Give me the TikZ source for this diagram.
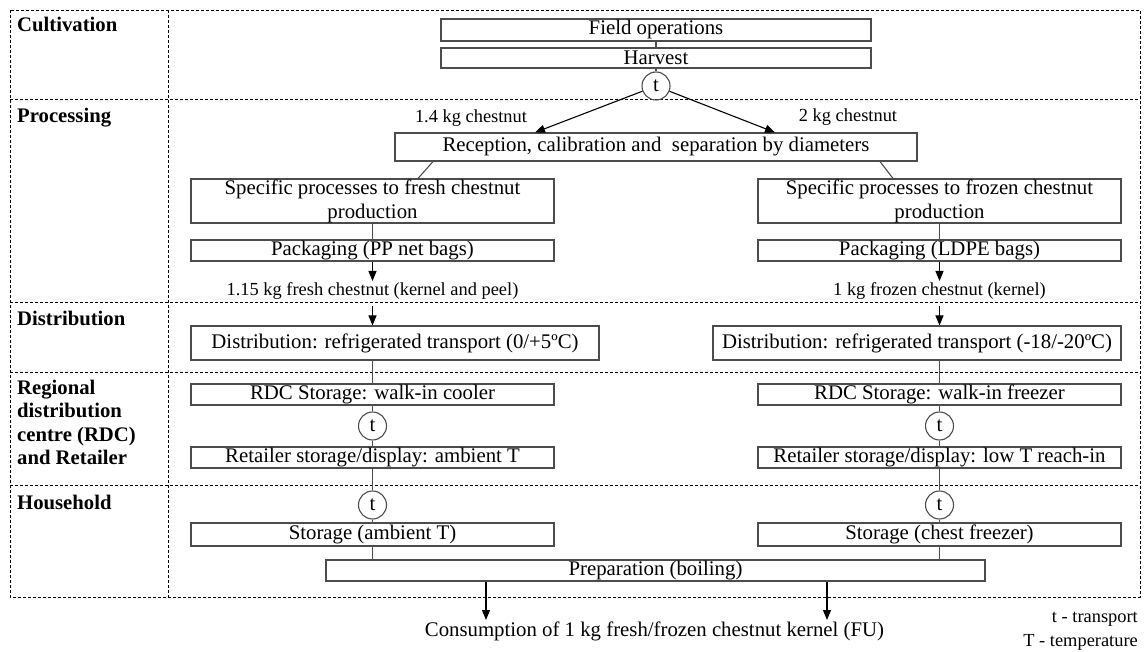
\documentclass[tikz,border=0pt]{standalone}
\usepackage{fontspec}
\setmainfont{Liberation Serif}
\usetikzlibrary{arrows.meta}
\definecolor{bx}{gray}{0.3}
\newcommand\fsbox{\fontsize{20.8}{23.8}\selectfont}
\newcommand\fsann{\fontsize{18.4}{21}\selectfont}
\newcommand\fslab{\fontsize{20.7}{23.3}\selectfont\bfseries}
\begin{document}
\begin{tikzpicture}[x=1pt,y=-1pt,
  box/.style={draw=bx, line width=1.1pt, inner sep=0pt, minimum width=363pt, font=\fsbox, align=center},
  tc/.style={circle, draw=bx, line width=1.1pt, minimum size=28pt, inner sep=0pt, font=\fsbox},
  ln/.style={draw=bx, line width=1.1pt},
  arr/.style={draw=black, line width=1.1pt, -{Triangle[length=10pt,width=8pt]}},
  frame/.style={draw=black, line width=0.9pt, dash pattern=on 3pt off 2pt},
  ann/.style={font=\fsann, inner sep=1pt},
  lab/.style={font=\fslab, anchor=base west, inner sep=0pt}]
\useasboundingbox (0,0) rectangle (1144,652);
% frame
\draw[frame] (10,10) rectangle (1140,597);
\draw[frame] (168,10) -- (168,597);
\foreach \yy in {99,302,372,485} \draw[frame] (10,\yy) -- (1140,\yy);
% stage labels
\node[lab] (lcult) at (17,32) {Cultivation};
\node[lab] (lproc) at (17,123) {Processing};
\node[lab] (ldist) at (17,326) {Distribution};
\node[lab, anchor=north west, align=left] (lrdc) at (17,380) {Regional\\distribution\\centre (RDC)\\and Retailer};
\node[lab] (lhouse) at (17,509) {Household};
% cultivation
\node[box, minimum width=430pt, minimum height=22pt] (field) at (656,30) {Field operations};
\node[box, minimum width=430pt, minimum height=20pt] (harv) at (656,58) {Harvest};
\node[tc] (t0) at (656,86) {t};
% processing
\node[ann] (a14) at (471,118) {1.4 kg chestnut};
\node[ann] (a2) at (848,117) {2 kg chestnut};
\node[box, minimum width=522pt, minimum height=28pt] (rec) at (656,147) {Reception, calibration and \ separation by diameters};
\node[box, minimum height=44pt] (specL) at (372.5,201) {Specific processes to fresh chestnut\\production};
\node[box, minimum height=44pt] (specR) at (939.5,201) {Specific processes to frozen chestnut\\production};
\node[box, minimum height=21pt] (packL) at (372.5,250.5) {Packaging (PP net bags)};
\node[box, minimum height=21pt] (packR) at (939.5,250.5) {Packaging (LDPE bags)};
\node[ann, anchor=north] (outL) at (372.5,281) {1.15 kg fresh chestnut (kernel and peel)};
\node[ann, anchor=north] (outR) at (939.5,281) {1 kg frozen chestnut (kernel)};
\coordinate (aL) at (372.5,306);
\coordinate (aR) at (939.5,306);
% distribution
\node[box, minimum width=408pt, minimum height=34pt] (distL) at (395,343) {Distribution: refrigerated transport (0/+5ºC)};
\node[box, minimum width=408pt, minimum height=34pt] (distR) at (917,343) {Distribution: refrigerated transport (-18/-20ºC)};
% RDC and retailer
\node[box, minimum height=21pt] (rdcL) at (372.5,394.5) {RDC Storage: walk-in cooler};
\node[box, minimum height=21pt] (rdcR) at (939.5,394.5) {RDC Storage: walk-in freezer};
\node[tc] (tL1) at (372.5,426) {t};
\node[tc] (tR1) at (939.5,426) {t};
\node[box, minimum height=21pt] (retL) at (372.5,457.5) {Retailer storage/display: ambient T};
\node[box, minimum height=21pt] (retR) at (939.5,457.5) {Retailer storage/display: low T reach-in};
% household
\node[tc] (tL2) at (372.5,505) {t};
\node[tc] (tR2) at (939.5,505) {t};
\node[box, minimum height=23pt] (stoL) at (372.5,534.5) {Storage (ambient T)};
\node[box, minimum height=23pt] (stoR) at (939.5,534.5) {Storage (chest freezer)};
\node[box, minimum width=659pt, minimum height=21pt] (prep) at (655.5,570.5) {Preparation (boiling)};
\coordinate (c1) at (486,620);
\coordinate (c2) at (827,620);
\node[font=\fsbox, anchor=north, inner sep=1pt] (cons) at (654.5,621) {Consumption of 1 kg fresh/frozen chestnut kernel (FU)};
\node[ann, anchor=east, inner sep=0pt] (leg1) at (1138,619) {t - transport};
\node[ann, anchor=east, inner sep=0pt] (leg2) at (1138,642) {T - temperature};
% connectors
\draw[ln] (field) -- (harv);
\draw[ln] (harv) -- (t0);
\draw[arr] (t0) -- ([xshift=-121pt]rec.north);
\draw[arr] (t0) -- ([xshift=119pt]rec.north);
\draw[ln] ([xshift=-223pt]rec.south) -- ([xshift=45.5pt]specL.north);
\draw[ln] ([xshift=224pt]rec.south) -- ([xshift=-46.5pt]specR.north);
\draw[ln] (specL) -- (packL);
\draw[ln] (specR) -- (packR);
\draw[arr] (packL) -- (outL);
\draw[arr] (packR) -- (outR);
\draw[arr] (aL) -- (aL |- distL.north);
\draw[arr] (aR) -- (aR |- distR.north);
\draw[ln] (distL.south -| rdcL) -- (rdcL);
\draw[ln] (distR.south -| rdcR) -- (rdcR);
\draw[ln] (rdcL) -- (tL1);
\draw[ln] (rdcR) -- (tR1);
\draw[ln] (tL1) -- (retL);
\draw[ln] (tR1) -- (retR);
\draw[ln] (retL) -- (tL2);
\draw[ln] (retR) -- (tR2);
\draw[ln] (tL2) -- (stoL);
\draw[ln] (tR2) -- (stoR);
\draw[ln] (stoL) -- (stoL |- prep.north);
\draw[ln] (stoR) -- (stoR |- prep.north);
\draw[arr] (prep.south -| c1) -- (c1);
\draw[arr] (prep.south -| c2) -- (c2);
\end{tikzpicture}
\end{document}
